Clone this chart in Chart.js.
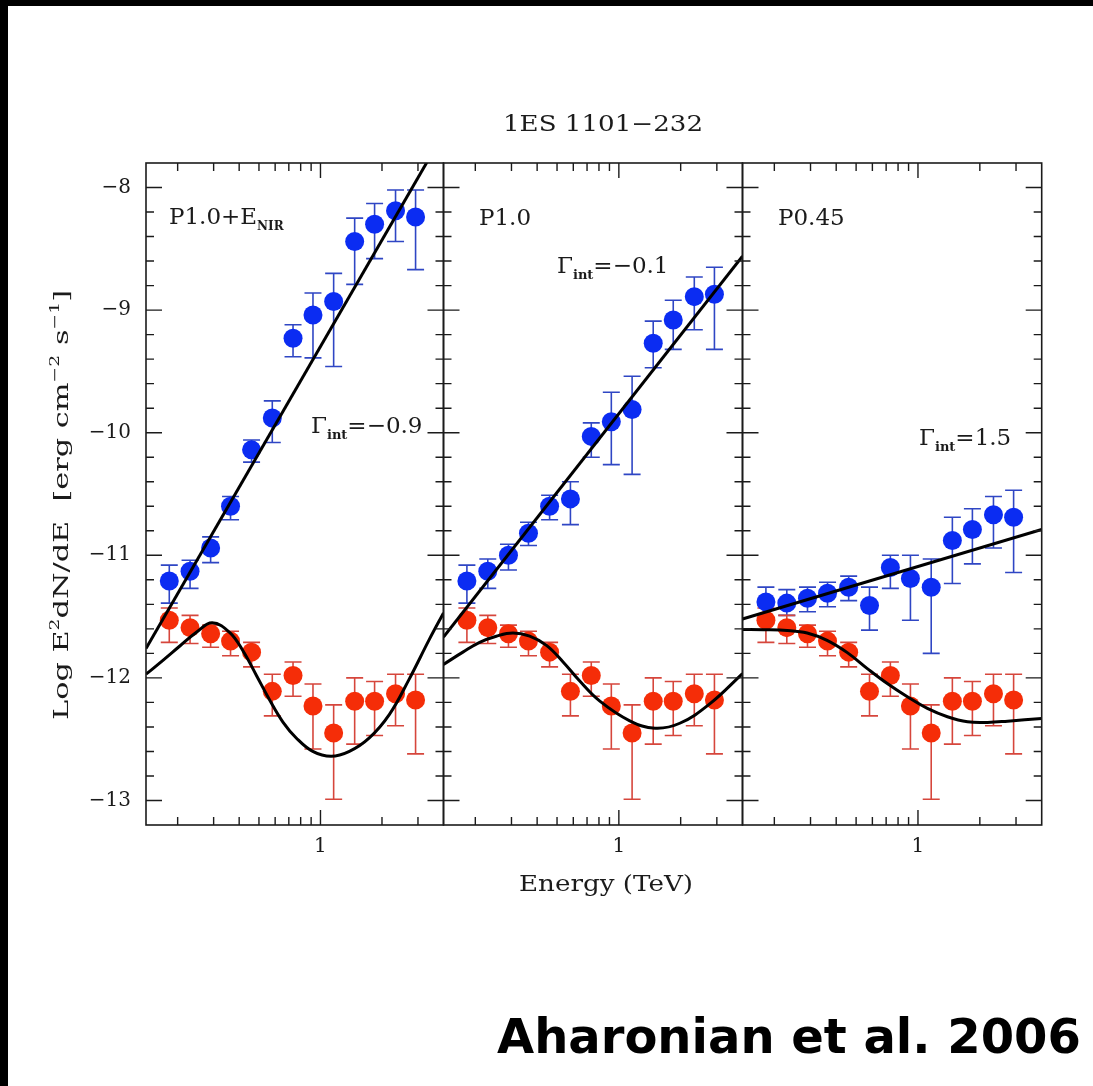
<!DOCTYPE html>
<html>
<head>
<meta charset="utf-8">
<script src="https://cdn.jsdelivr.net/npm/chart.js@4.4.1/dist/chart.umd.min.js"></script>
<style>
  html, body { margin: 0; padding: 0; background: #fff; }
  #wrap { position: relative; width: 1093px; height: 1086px; overflow: hidden; background: #fff; }
  #wrap canvas { position: absolute; left: 0; top: 0; }
  .edge { position: absolute; background: #000; }
  #credit { position: absolute; left: 497px; top: 1008px; font: bold 48px "DejaVu Sans", sans-serif; color: #000; white-space: nowrap; }
</style>
</head>
<body>
<div id="wrap">
  <div class="edge" style="left:0;top:0;width:1093px;height:6px"></div>
  <div class="edge" style="left:0;top:0;width:8px;height:1086px"></div>
  <canvas id="panel1" width="1093" height="1086"></canvas>
  <canvas id="panel2" width="1093" height="1086"></canvas>
  <canvas id="panel3" width="1093" height="1086"></canvas>
  <div id="credit">Aharonian et al. 2006</div>
</div>
<script>
// Energy bins (TeV), shared by every panel
const energy = [0.182, 0.230, 0.290, 0.363, 0.460, 0.581, 0.734, 0.919, 1.16, 1.47, 1.84, 2.33, 2.92];

// Observed spectrum, log E^2 dN/dE (same in all panels)
const obsFlux = [-11.53, -11.59, -11.64, -11.70, -11.79, -12.11, -11.98, -12.23, -12.45, -12.19, -12.19, -12.13, -12.18];
const obsHi   = [-11.43, -11.49, -11.57, -11.62, -11.71, -11.97, -11.87, -12.05, -12.22, -12.00, -12.03, -11.97, -11.97];
const obsLo   = [-11.71, -11.72, -11.75, -11.82, -11.91, -12.31, -12.15, -12.58, -12.99, -12.54, -12.47, -12.39, -12.62];

// De-absorbed (intrinsic) spectrum for each EBL model
const intrP1   = [-11.21, -11.13, -10.94, -10.60, -10.14, -9.88, -9.23, -9.04, -8.93, -8.44, -8.30, -8.19, -8.24];
const intrP1Hi = [-11.08, -11.04, -10.85, -10.52, -10.06, -9.74, -9.12, -8.86, -8.70, -8.25, -8.13, -8.02, -8.02];
const intrP1Lo = [-11.39, -11.27, -11.06, -10.71, -10.24, -10.08, -9.38, -9.39, -9.46, -8.79, -8.58, -8.44, -8.67];

const intrP2   = [-11.21, -11.13, -11.00, -10.82, -10.60, -10.54, -10.03, -9.91, -9.81, -9.27, -9.08, -8.89, -8.87];
const intrP2Hi = [-11.08, -11.03, -10.91, -10.73, -10.51, -10.40, -9.92, -9.67, -9.54, -9.09, -8.92, -8.73, -8.65];
const intrP2Lo = [-11.39, -11.27, -11.12, -10.92, -10.71, -10.75, -10.20, -10.26, -10.34, -9.47, -9.32, -9.16, -9.32];

const intrP3   = [-11.38, -11.39, -11.35, -11.31, -11.26, -11.41, -11.10, -11.19, -11.26, -10.88, -10.79, -10.67, -10.69];
const intrP3Hi = [-11.26, -11.28, -11.26, -11.22, -11.17, -11.26, -11.00, -11.00, -11.03, -10.69, -10.62, -10.52, -10.47];
const intrP3Lo = [-11.52, -11.49, -11.46, -11.42, -11.37, -11.61, -11.27, -11.53, -11.80, -11.23, -11.07, -10.94, -11.14];

// Power-law fits to the intrinsic spectra (endpoints at the axis limits)
const lineE  = [0.14, 4.0];
const lineP1 = [-11.76, -7.56];
const lineP2 = [-11.667, -8.56];
const lineP3 = [-11.52, -10.79];

// Intrinsic power law folded with absorption
const curveP1E = [0.14, 0.170, 0.205, 0.248, 0.295, 0.360, 0.418, 0.486, 0.564, 0.655, 0.761, 0.917, 1.127, 1.385, 1.734, 2.171, 2.718, 3.40, 4.0];
const curveP1  = [-11.97, -11.855, -11.74, -11.625, -11.55, -11.63, -11.78, -11.98, -12.18, -12.36, -12.49, -12.60, -12.64, -12.60, -12.49, -12.30, -12.01, -11.69, -11.47];
const curveP2E = [0.14, 0.174, 0.210, 0.253, 0.305, 0.368, 0.444, 0.535, 0.640, 0.808, 1.13, 1.50, 1.98, 2.78, 4.0];
const curveP2  = [-11.89, -11.79, -11.71, -11.66, -11.634, -11.66, -11.735, -11.87, -12.02, -12.19, -12.35, -12.41, -12.37, -12.21, -11.965];
const curveP3E = [0.14, 0.177, 0.231, 0.289, 0.361, 0.453, 0.567, 0.709, 0.888, 1.111, 1.391, 1.742, 2.181, 2.73, 4.0];
const curveP3  = [-11.605, -11.607, -11.613, -11.634, -11.694, -11.794, -11.924, -12.046, -12.154, -12.249, -12.317, -12.358, -12.363, -12.353, -12.331];

// Axis ticks
const xRange = [0.14, 4.0];
const yRange = [-13.2, -7.8];
const xTicks = [0.2, 0.3, 0.4, 0.5, 0.6, 0.7, 0.8, 0.9, 1, 2, 3];
const xLabels = [1];
const yLabels = [-13, -12, -11, -10, -9, -8];
const yMinorStep = 0.2;

const BLUE = '#0b2cf2', BLUE_BAR = '#2f46c4';
const RED = '#f52d08', RED_BAR = '#d6463c';
const INK = '#1b1b1b';
const SERIF = '"DejaVu Serif", serif';

const pts = (xs, ys) => xs.map((x, i) => ({ x, y: ys[i] }));

// Vertical error bars with caps, drawn under the markers
const errorBars = {
  id: 'errorBars',
  beforeDatasetsDraw(chart) {
    const { ctx, chartArea: a, scales: { y } } = chart;
    ctx.save();
    ctx.beginPath();
    ctx.rect(a.left, a.top, a.right - a.left, a.bottom - a.top);
    ctx.clip();
    chart.data.datasets.forEach((ds, i) => {
      if (!ds.errLo) return;
      const meta = chart.getDatasetMeta(i);
      ctx.strokeStyle = ds.barColor;
      ctx.lineWidth = 1.6;
      ctx.beginPath();
      meta.data.forEach((el, j) => {
        const x = el.x, yl = y.getPixelForValue(ds.errLo[j]), yh = y.getPixelForValue(ds.errHi[j]);
        ctx.moveTo(x, yl); ctx.lineTo(x, yh);
        ctx.moveTo(x - 8.5, yl); ctx.lineTo(x + 8.5, yl);
        ctx.moveTo(x - 8.5, yh); ctx.lineTo(x + 8.5, yh);
      });
      ctx.stroke();
    });
    ctx.restore();
  }
};

// Boxed frame with inward ticks on all four sides, plus tick labels
const frame = {
  id: 'frame',
  afterDatasetsDraw(chart, args, opts) {
    const { ctx, chartArea: a, scales: { x, y } } = chart;
    ctx.save();
    ctx.strokeStyle = INK;
    ctx.lineWidth = 1.6;
    ctx.strokeRect(a.left, a.top, a.right - a.left, a.bottom - a.top);
    ctx.lineWidth = 1.4;
    ctx.beginPath();
    const n0 = Math.ceil(yRange[0] / yMinorStep + 1e-6), n1 = Math.floor(yRange[1] / yMinorStep - 1e-6);
    for (let k = n0; k <= n1; k++) {
      const v = k * yMinorStep;
      const major = Math.abs(v - Math.round(v)) < 1e-6;
      const L = major ? 16 : 8;
      const py = y.getPixelForValue(v);
      ctx.moveTo(a.left, py); ctx.lineTo(a.left + L, py);
      ctx.moveTo(a.right, py); ctx.lineTo(a.right - L, py);
    }
    xTicks.forEach(v => {
      const L = xLabels.includes(v) ? 15 : 8;
      const px = x.getPixelForValue(v);
      ctx.moveTo(px, a.bottom); ctx.lineTo(px, a.bottom - L);
      ctx.moveTo(px, a.top); ctx.lineTo(px, a.top + L);
    });
    ctx.stroke();

    ctx.fillStyle = INK;
    ctx.font = '20px ' + SERIF;
    ctx.textAlign = 'center';
    ctx.textBaseline = 'top';
    xLabels.forEach(v => ctx.fillText(String(v), x.getPixelForValue(v), a.bottom + 12));
    if (opts.yLabels) {
      ctx.textAlign = 'right';
      ctx.textBaseline = 'middle';
      yLabels.forEach(v => ctx.fillText('\u2212' + Math.abs(v), a.left - 15, y.getPixelForValue(v)));
    }
    ctx.restore();
  }
};

// Free text placed in page pixels: runs of differently styled pieces,
// optionally stretched along the text direction to a given length
const notes = {
  id: 'notes',
  afterDraw(chart, args, opts) {
    const { ctx } = chart;
    (opts.items || []).forEach(item => {
      ctx.save();
      ctx.fillStyle = INK;
      ctx.textBaseline = 'alphabetic';
      ctx.translate(item.x, item.y);
      if (item.rotate) ctx.rotate(item.rotate);
      let total = 0;
      item.runs.forEach(r => { ctx.font = r.font; total += ctx.measureText(r.t).width; });
      const sx = item.width ? item.width / total : 1;
      const len = total * sx;
      ctx.translate(item.align === 'center' ? -len / 2 : 0, 0);
      ctx.scale(sx, 1);
      let cx = 0;
      item.runs.forEach(r => {
        ctx.font = r.font;
        ctx.fillText(r.t, cx, r.dy || 0);
        cx += ctx.measureText(r.t).width;
      });
      ctx.restore();
    });
  }
};

const gammaRuns = (val) => [
  { t: '\u0393', font: '23px ' + SERIF },
  { t: 'int', font: 'bold 13px ' + SERIF, dy: 6 },
  { t: '=' + val, font: '23px ' + SERIF }
];

function makePanel(id, left, right, intr, intrLo, intrHi, line, curveE, curve, extra) {
  return new Chart(document.getElementById(id), {
    type: 'scatter',
    data: {
      datasets: [
        { data: pts(curveE, curve), showLine: true, borderColor: '#000', borderWidth: 3, pointRadius: 0, tension: 0.4 },
        { data: pts(lineE, line), showLine: true, borderColor: '#000', borderWidth: 3, pointRadius: 0 },
        { data: pts(energy, intr), errLo: intrLo, errHi: intrHi, barColor: BLUE_BAR, pointRadius: 9.5, backgroundColor: BLUE, borderWidth: 0 },
        { data: pts(energy, obsFlux), errLo: obsLo, errHi: obsHi, barColor: RED_BAR, pointRadius: 9.5, backgroundColor: RED, borderWidth: 0 }
      ]
    },
    options: {
      responsive: false,
      animation: false,
      events: [],
      layout: { padding: { left: left, right: 1093 - right, top: 163, bottom: 1086 - 825 } },
      scales: {
        x: { type: 'logarithmic', min: xRange[0], max: xRange[1], display: false },
        y: { type: 'linear', min: yRange[0], max: yRange[1], display: false }
      },
      plugins: {
        legend: { display: false },
        tooltip: { enabled: false },
        frame: { yLabels: extra.yLabels || false },
        notes: { items: extra.notes }
      }
    },
    plugins: [errorBars, frame, notes]
  });
}

makePanel('panel1', 146, 443.5, intrP1, intrP1Lo, intrP1Hi, lineP1, curveP1E, curveP1, {
  yLabels: true,
  notes: [
    { x: 603, y: 131, align: 'center', width: 200, runs: [{ t: '1ES 1101\u2212232', font: '22px ' + SERIF }] },
    { x: 606, y: 891, align: 'center', width: 174, runs: [{ t: 'Energy (TeV)', font: '23px ' + SERIF }] },
    { x: 68, y: 505, align: 'center', rotate: -Math.PI / 2, width: 430, runs: [
      { t: 'Log E', font: '21px ' + SERIF },
      { t: '2', font: '13px ' + SERIF, dy: -9 },
      { t: 'dN/dE  [erg cm', font: '21px ' + SERIF },
      { t: '\u22122', font: '13px ' + SERIF, dy: -9 },
      { t: ' s', font: '21px ' + SERIF },
      { t: '\u22121', font: '13px ' + SERIF, dy: -9 },
      { t: ']', font: '21px ' + SERIF }
    ] },
    { x: 169, y: 224, runs: [{ t: 'P1.0+E', font: '23px ' + SERIF }, { t: 'NIR', font: 'bold 12px ' + SERIF, dy: 6 }] },
    { x: 311, y: 433, runs: gammaRuns('\u22120.9') }
  ]
});
makePanel('panel2', 443.5, 742.5, intrP2, intrP2Lo, intrP2Hi, lineP2, curveP2E, curveP2, {
  notes: [
    { x: 479, y: 225, runs: [{ t: 'P1.0', font: '23px ' + SERIF }] },
    { x: 557, y: 273, runs: gammaRuns('\u22120.1') }
  ]
});
makePanel('panel3', 742.5, 1041.7, intrP3, intrP3Lo, intrP3Hi, lineP3, curveP3E, curveP3, {
  notes: [
    { x: 778, y: 225, runs: [{ t: 'P0.45', font: '23px ' + SERIF }] },
    { x: 919, y: 445, runs: gammaRuns('1.5') }
  ]
});
</script>
</body>
</html>
